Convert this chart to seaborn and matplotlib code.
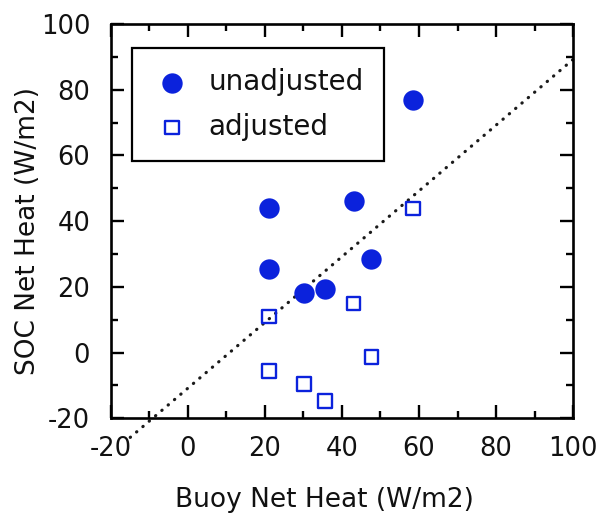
import matplotlib
matplotlib.use("Agg")
import matplotlib.pyplot as plt
import seaborn as sns
from matplotlib.ticker import MultipleLocator

# values
buoy_x = [21.0, 21.0, 30.1, 35.6, 43.0, 47.6, 58.4]
unadjusted = [43.9, 25.5, 18.2, 19.2, 46.1, 28.6, 77.0]
adjusted = [10.9, -5.6, -9.6, -14.7, 15.0, -1.3, 43.9]
fit_x = [-15, 100]
fit_y = [-25.8, 89.2]
ticks = [-20, 0, 20, 40, 60, 80, 100]

blue = '#0b22dc'

sns.set_theme(style="ticks")
plt.rcParams['font.family'] = ['DejaVu Sans']
plt.rcParams['axes.unicode_minus'] = False

fig = plt.figure(figsize=(5.99, 5.17), dpi=100)
ax = fig.add_axes([0.1853, 0.1909, 0.7713, 0.7627])

sns.lineplot(x=fit_x, y=fit_y, ax=ax, color='#1a1a1a', lw=2.3,
             linestyle=(0, (0.1, 2.5)), dash_capstyle='round', clip_on=False)
sns.scatterplot(x=buoy_x, y=unadjusted, ax=ax, marker='o', s=215, color=blue,
                edgecolor=blue, linewidth=0, label='unadjusted', zorder=3)
sns.scatterplot(x=buoy_x, y=adjusted, ax=ax, marker='s', s=92, facecolor='none',
                edgecolor=blue, linewidth=1.7, label='adjusted', zorder=3)

ax.set_xlim(-20, 100)
ax.set_ylim(-20, 100)
ax.set_xticks(ticks)
ax.set_yticks(ticks)
ax.xaxis.set_minor_locator(MultipleLocator(10))
ax.yaxis.set_minor_locator(MultipleLocator(10))
ax.tick_params(which='both', direction='in', top=True, right=True,
               width=1.7, color='black', labelsize=18.5, labelcolor='#111111')
ax.tick_params(which='major', length=9.5)
ax.tick_params(which='minor', length=5)
ax.tick_params(axis='x', which='major', pad=13)
ax.tick_params(axis='y', which='major', pad=15)
for sp in ax.spines.values():
    sp.set_visible(True)
    sp.set_linewidth(1.9)
    sp.set_color('black')

ax.set_xlabel('Buoy Net Heat (W/m2)', fontsize=19, color='#111111')
ax.set_ylabel('SOC Net Heat (W/m2)', fontsize=19, color='#111111')
ax.xaxis.set_label_coords(0.463, -0.207)
ax.xaxis.label.set_va('center')
ax.yaxis.set_label_coords(-0.18, 0.474)
ax.yaxis.label.set_va('center')

leg = ax.legend(loc='upper left', bbox_to_anchor=(0.045, 0.938), borderaxespad=0,
                fontsize=20, frameon=True, fancybox=False, edgecolor='black',
                borderpad=0.72, labelspacing=0.6, handlelength=1.45, handletextpad=0.6)
leg.get_frame().set_linewidth(1.6)
leg.get_frame().set_alpha(1)
for t in leg.get_texts():
    t.set_color('#111111')

fig.savefig('out.png', dpi=100)
